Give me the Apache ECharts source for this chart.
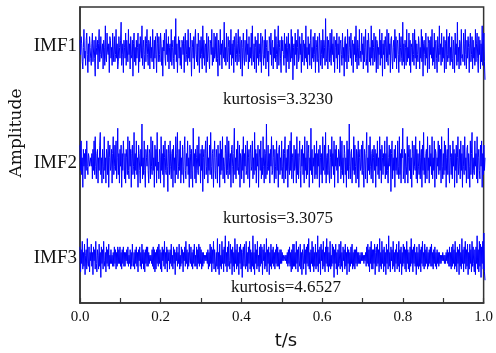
<!DOCTYPE html>
<html><head><meta charset="utf-8">
<script src="https://cdn.jsdelivr.net/npm/echarts@6/dist/echarts.min.js"></script>
<style>html,body{margin:0;padding:0;background:#fff}#c{width:496px;height:353px}</style>
</head><body><div id="c"></div>
<script>
const imf1 = [3,-1,4,2,-3,-5,1,6,-2,0,-4,3,5,-1,-6,2,-3,4,1,-2,
-4,2,5,-3,0,3,-2,-7,4,1,-1,3,-5,2,6,-3,-1,4,-2,0,
2,-5,3,1,-4,7,-2,-3,5,0,-1,2,-6,4,3,-2,1,-4,5,-3,
0,4,-3,-1,6,-2,2,-5,-3,4,1,-2,3,8,-4,-1,2,-6,3,1,
-2,5,-4,3,0,-3,6,-1,2,-5,4,-2,-1,3,-7,2,5,-3,1,-4,
3,-2,1,5,-6,2,-3,4,0,-2,7,-4,1,3,-5,-1,4,-3,2,6,
-1,-4,3,2,-5,4,-2,1,-3,6,0,-5,3,-2,4,-1,-6,5,2,-3,
4,-1,-3,5,2,-4,1,-7,3,0,5,-2,-4,6,-1,2,-3,4,-5,1,
2,-3,6,-4,1,3,-2,-5,4,-1,9,-3,2,-6,0,4,-2,3,-4,1,
-5,3,2,-1,4,-6,2,5,-3,-1,3,-4,6,-2,1,-3,5,0,-7,3,
1,-2,4,-5,3,6,-1,-3,2,-4,5,1,-6,3,-2,4,-1,-5,7,-2,
3,-4,1,2,-6,5,-3,0,4,-2,-5,3,2,-1,6,-4,1,-3,5,-2,
-1,4,-3,5,-2,-7,3,1,-4,6,-1,2,-5,3,0,-2,8,-3,1,-4,
5,-2,-3,4,1,-5,3,-1,6,-4,2,-2,3,-6,4,1,-3,5,-1,-4,
2,6,-3,-1,4,-5,2,3,-7,1,5,-2,-4,3,0,-3,6,-1,2,-5,
4,-3,1,-2,5,-4,7,-1,-3,2,-5,4,1,-6,3,-2,5,-4,2,-1,
-3,5,-6,2,4,-1,-4,3,-2,6,-5,1,3,-3,0,-7,4,2,-1,5,
-4,2,3,-5,1,-2,6,-3,4,-1,-5,2,7,-4,1,3,-2,-6,4,0,
3,-1,-4,5,-2,2,-6,4,1,-3,5,-5,2,0,-3,6,-2,4,-8,1,
2,-4,5,-1,3,-5,1,6,-3,-2,4,-1,2,-6,5,-3,1,3,-4,2,
-2,7,-3,1,-5,4,-1,2,-4,3,6,-5,1,-2,4,-3,-1,5,-6,3,
1,-3,4,-2,-6,5,2,-4,3,-1,-5,6,-2,3,1,-4,9,-3,-2,4,
-5,3,1,-3,5,-2,-4,6,-1,2,-3,4,-6,1,3,-2,5,-5,2,-1,
4,-6,2,3,-1,-4,5,-2,1,-7,3,4,-3,2,-5,6,-1,-3,4,1,
-2,5,-4,1,3,-6,2,-1,4,-3,7,-2,-5,3,1,-4,6,-2,0,-3,
5,-1,2,-5,4,-3,1,6,-4,-2,3,-6,5,2,-3,1,-4,7,-2,3,
-4,1,5,-3,-2,4,-6,3,2,-5,1,-1,6,-4,3,-2,5,-7,2,-1,
3,-5,4,1,-3,6,-2,-4,5,-1,2,-6,3,4,-2,-5,1,3,-3,6,
-2,4,-5,2,3,-1,-6,5,-3,1,4,-2,-4,8,-3,2,-5,3,1,-4,
6,-3,1,-2,5,-4,3,-6,2,1,-3,5,-1,-4,6,-2,3,-5,2,-1,
-3,4,2,-5,1,-2,6,-3,4,-7,2,3,-1,-4,5,-2,1,-6,4,2,
-5,3,-1,4,-2,6,-4,1,-3,5,-5,2,3,-2,-6,4,1,-3,7,-1,
2,-4,5,-3,1,-2,4,-6,3,2,-5,6,-1,-3,4,-2,5,-4,1,-3,
4,-2,-5,3,1,-6,5,-1,2,-4,8,-3,1,-5,3,2,-4,6,-2,-1,
-3,5,2,-4,6,-1,-5,3,-2,4,1,-6,2,5,-3,-1,4,-5,3,-2,
1,-4,6,-3,2,5,-2,-6,4,-1,3,-5,2,-3,7,-4,1,5,-3,-8];
const imf2 = [4,-2,5,-3,1,-6,3,-1,2,-4,3,-2,5,-1,-3,2,1,-1,0,1,
-1,2,-4,3,-2,5,-3,6,-1,-4,2,3,-5,1,-2,4,7,-3,1,-5,
3,-1,-4,6,-2,1,-5,3,2,-3,5,-6,1,4,-2,-1,3,-5,2,6,
-3,-1,4,-2,5,-4,1,8,-3,2,-5,3,-1,4,-6,2,-2,5,1,-4,
2,-5,3,1,-3,6,-2,-4,5,-1,3,-6,2,4,-3,-1,7,-4,2,-2,
5,-3,1,-6,4,2,-2,-5,3,-1,9,-4,1,-3,5,-2,-6,3,1,-1,
4,-2,-5,3,2,-4,6,-1,-3,5,-2,1,-6,4,-1,3,-5,7,-2,0,
-4,3,1,-5,6,-2,2,-3,4,-6,1,5,-2,-3,3,-1,-7,4,2,-3,
5,-1,-4,2,3,-6,4,-2,1,-5,6,-3,2,7,-4,-1,3,-2,5,-5,
1,-3,4,-1,-5,3,6,-2,-4,2,-1,5,-3,1,-6,4,2,-4,3,-2,
-6,8,-1,2,-4,3,-5,1,4,-2,-3,6,-1,2,-5,3,-2,4,-7,1,
3,-4,2,5,-3,-1,6,-5,1,-2,4,-3,7,-1,-4,2,3,-6,1,5,
-2,-4,3,1,-5,4,-1,2,-6,5,-3,3,-2,6,-4,1,-1,-5,4,2,
-3,6,-2,-4,5,1,-3,2,-6,3,4,-1,-5,2,8,-3,1,-4,3,-2,
5,-1,-3,4,-6,2,1,-4,3,-2,6,-5,2,-1,4,-3,-2,5,-4,1,
3,-6,2,4,-2,-1,5,-4,1,-3,7,-2,3,-5,2,-1,4,-6,1,3,
-2,5,-4,1,-3,6,-1,-5,3,2,-4,9,-3,-1,4,-2,2,-5,3,-1,
6,-3,-2,4,1,-5,3,-1,-4,5,-2,2,-6,3,4,-3,1,-2,5,-4,
-1,3,-5,2,6,-4,1,-2,3,-6,4,-1,-3,5,-2,7,-4,1,2,-5,
4,-2,-1,3,-5,6,-3,2,-4,1,5,-2,-6,3,-1,4,-3,2,-5,6,
-2,1,-4,5,-3,2,4,-6,1,-2,8,-3,3,-5,1,-1,4,-4,2,-3,
5,-4,2,-1,3,-6,4,1,-3,2,-5,6,-2,-1,4,-3,7,-5,1,2,
-3,4,-2,-5,3,1,-4,6,-1,2,-3,5,-6,3,-1,4,-2,1,-5,3,
2,-1,6,-4,-2,5,-3,1,-5,4,2,-3,1,-6,5,-2,3,-4,9,-1,
-4,2,3,-5,1,-2,6,-3,4,-1,-5,3,2,-4,5,-6,1,3,-2,-1,
4,-3,5,-2,-6,3,1,-4,2,7,-5,1,-2,4,-3,6,-1,-4,2,3,
-5,1,4,-2,3,-6,2,-1,5,-3,1,-4,6,-2,3,-5,4,1,-3,2,
-1,5,-4,2,-3,6,-2,-5,1,4,-1,3,-7,2,5,-4,1,-2,3,-6,
4,-2,1,-3,5,-1,-4,6,-3,2,-5,3,1,8,-4,-2,3,-5,2,-1,
-3,6,-5,1,4,-2,3,-4,1,-6,5,2,-3,4,-1,-2,6,-4,3,-5,
2,-1,-3,5,-4,1,3,-6,4,-2,7,-3,1,-5,2,3,-4,6,-2,1,
-5,4,-1,2,-3,6,-4,1,-2,5,-6,3,2,-4,1,-1,5,-3,4,-2,
3,-5,6,-1,-4,2,-3,5,-2,4,-6,1,3,-3,8,-2,-5,4,1,-3,
2,-4,5,-1,3,-6,2,-2,4,-5,1,6,-3,-1,3,-4,5,-2,2,-6,
4,-1,-3,6,-2,1,-5,3,4,-4,2,-1,-6,5,-3,2,7,-4,1,-2,
-3,5,-1,2,-4,6,-5,1,3,-2,-4,4,-1,5,-6,2,-3,4,-2,1];
const imf3 = [4,-5,3,-2,6,-4,2,-3,5,-6,1,3,-4,7,-2,-3,4,-5,2,-1,
5,-3,2,-6,4,-1,3,-4,6,-2,-5,3,1,-4,5,-3,2,-7,4,-2,
3,-4,6,-1,-3,2,-5,4,-2,3,-3,5,-4,1,-2,3,-2,1,-3,2,
-3,4,-2,3,-4,2,-3,4,-2,3,-2,4,-3,2,-4,3,-2,4,-3,2,
-3,2,-1,3,-2,4,-3,1,-2,3,-4,2,-3,5,-1,-3,2,-4,3,-2,
4,-3,2,-5,3,-1,4,-3,2,-4,5,-2,3,-4,2,-5,3,-2,4,-3,
4,-3,2,-2,1,-1,1,-2,3,-3,4,-4,3,-5,2,-4,3,-2,4,-3,
5,-2,3,-4,2,-5,4,-1,3,-3,6,-4,2,-2,4,-5,3,-1,2,-4,
3,-2,5,-3,1,-4,4,-2,3,-6,2,-1,4,-3,2,-2,5,-4,1,-3,
4,-2,3,-5,2,-1,4,-3,6,-2,3,-4,2,-3,5,-1,-2,4,-3,2,
-4,3,-2,5,-3,1,-3,4,-4,3,-2,5,-3,4,-2,3,-4,2,-3,2,
-2,1,-1,1,-1,2,-2,3,-4,2,-3,5,-2,4,-5,3,-2,6,-4,3,
3,-5,2,-3,7,-4,2,-6,5,-3,1,-4,6,-2,3,-5,4,-2,8,-3,
2,-5,4,-3,6,-1,-4,5,-2,3,-6,4,-3,2,-5,7,-2,3,-4,5,
-3,2,-6,4,-2,5,-4,3,-7,2,4,-3,5,-2,-4,6,-3,2,-5,4,
-2,6,-4,3,-5,2,-3,8,-4,2,-6,5,-2,3,-4,6,-3,1,-5,4,
-3,5,-2,4,-6,3,-1,5,-4,2,-3,7,-5,3,-2,4,-6,2,-3,5,
-4,3,-2,4,-3,2,-4,3,-2,5,-3,4,-3,2,-4,3,-2,3,-2,2,
-1,1,-1,0,1,-1,1,-2,2,-3,3,-2,4,-3,2,-5,3,-4,5,-3,
5,-3,2,-4,6,-2,3,-5,4,-1,-3,5,-4,2,-6,3,1,-4,5,-2,
3,-6,4,-2,5,-3,7,-4,2,-5,3,-2,6,-3,4,-5,2,-3,5,-4,
2,-3,8,-5,3,-2,4,-6,5,-1,3,-4,6,-3,2,-5,4,-2,7,-3,
4,-5,2,-3,6,-4,1,-3,5,-2,4,-7,3,-2,5,-4,2,-6,3,-3,
5,-2,-4,6,-3,2,-5,4,-1,3,-4,5,-3,2,-6,4,-2,3,-5,2,
-3,4,-2,5,-4,2,-3,3,-4,3,-2,4,-3,2,-2,2,-2,1,-2,2,
-1,2,-1,1,-2,1,-1,2,-3,4,-2,5,-3,3,-5,4,-2,6,-4,3,
-4,3,-2,5,-6,2,4,-3,5,-2,3,-5,7,-3,2,-4,6,-2,3,-5,
4,-3,2,-6,5,-2,3,-4,8,-3,2,-5,4,-1,3,-4,6,-3,2,-5,
3,-2,5,-4,2,-3,6,-5,3,-2,4,-6,2,-3,5,-2,4,-4,3,-5,
6,-2,3,-4,2,-5,4,-3,7,-2,3,-5,4,-2,5,-3,2,-6,4,-3,
2,-4,5,-3,3,-5,4,-2,6,-3,2,-4,5,-3,3,-2,4,-4,2,-3,
3,-2,4,-3,5,-3,2,-4,3,-2,4,-3,2,-4,3,-2,2,-3,2,-2,
1,-2,1,-1,2,-1,1,-2,1,-2,2,-1,3,-2,2,-3,4,-3,2,-4,
4,-3,5,-2,3,-4,6,-3,2,-5,4,-2,3,-6,5,-3,2,-4,7,-2,
3,-5,4,-2,6,-4,3,-3,5,-6,2,-4,5,-2,3,-5,6,-3,4,-2,
-5,3,-6,4,-2,8,-4,3,-5,6,-3,5,-7,4,-2,6,-4,9,-5,-8];
const seriesNames = ['IMF1','IMF2','IMF3'];
const kurtosisLabels = ['kurtosis=3.3230','kurtosis=3.3075','kurtosis=4.6527'];
const xTickLabels = ['0.0','0.2','0.4','0.6','0.8','1.0'];

const signals = [imf1, imf2, imf3];
const serif = 'Liberation Serif';
const blue = '#0000ff';
const subGrids = [{top:15,height:72,r:10},{top:124,height:76,r:9},{top:233,height:50,r:9}];

const grids = [{left:80,right:11,top:7,bottom:50,show:true,borderColor:'#333',borderWidth:1.5}];
const xAxes = [{
  gridIndex:0,type:'value',min:0,max:1,interval:0.1,
  axisLine:{lineStyle:{color:'#333',width:1.5}},
  axisTick:{inside:true,length:5,lineStyle:{color:'#333',width:1.2}},
  splitLine:{show:false},
  axisLabel:{color:'#111',fontFamily:serif,fontSize:15,margin:7,
    formatter:v=>{const k=Math.round(v*10);return k%2===0?xTickLabels[k/2]:'';}}
}];
const yAxes = [{gridIndex:0,type:'value',min:0,max:1,axisLine:{show:true,lineStyle:{color:'#333',width:1.5}},
  axisTick:{show:false},axisLabel:{show:false},splitLine:{show:false}}];
const series = [];
signals.forEach((sig,k)=>{
  const gi = k+1;
  const g = subGrids[k];
  grids.push({left:80,right:11,top:g.top,height:g.height});
  xAxes.push({gridIndex:gi,type:'value',min:0,max:1,show:false});
  yAxes.push({gridIndex:gi,type:'value',min:-g.r,max:g.r,show:false});
  series.push({
    name:seriesNames[k],type:'line',xAxisIndex:gi,yAxisIndex:gi,
    showSymbol:false,symbol:'none',animation:false,silent:true,
    lineStyle:{color:blue,width:1},
    data:sig.map((v,i)=>[i/(sig.length-1),v])
  });
});

const labelY = [46,163,258];
const kurtPos = [[278,100],[278,219],[286,288]];
const graphic = [];
seriesNames.forEach((n,k)=>{
  graphic.push({type:'text',x:77,y:labelY[k],style:{text:n,fill:'#111',font:'19px "Liberation Serif"',align:'right',verticalAlign:'middle'}});
  graphic.push({type:'text',x:kurtPos[k][0],y:kurtPos[k][1],style:{text:kurtosisLabels[k],fill:'#111',font:'17px "Liberation Serif"',align:'center',verticalAlign:'middle'}});
});
graphic.push({type:'text',x:17,y:133,rotation:Math.PI/2,style:{text:'Amplitude',fill:'#111',font:'17px "DejaVu Serif"',align:'center',verticalAlign:'middle'}});
graphic.push({type:'text',x:286,y:341,style:{text:'t/s',fill:'#111',font:'18px "DejaVu Sans"',align:'center',verticalAlign:'middle'}});

const chart = echarts.init(document.getElementById('c'),null,{renderer:'canvas'});
chart.setOption({animation:false,grid:grids,xAxis:xAxes,yAxis:yAxes,series:series,graphic:graphic});
</script></body></html>
